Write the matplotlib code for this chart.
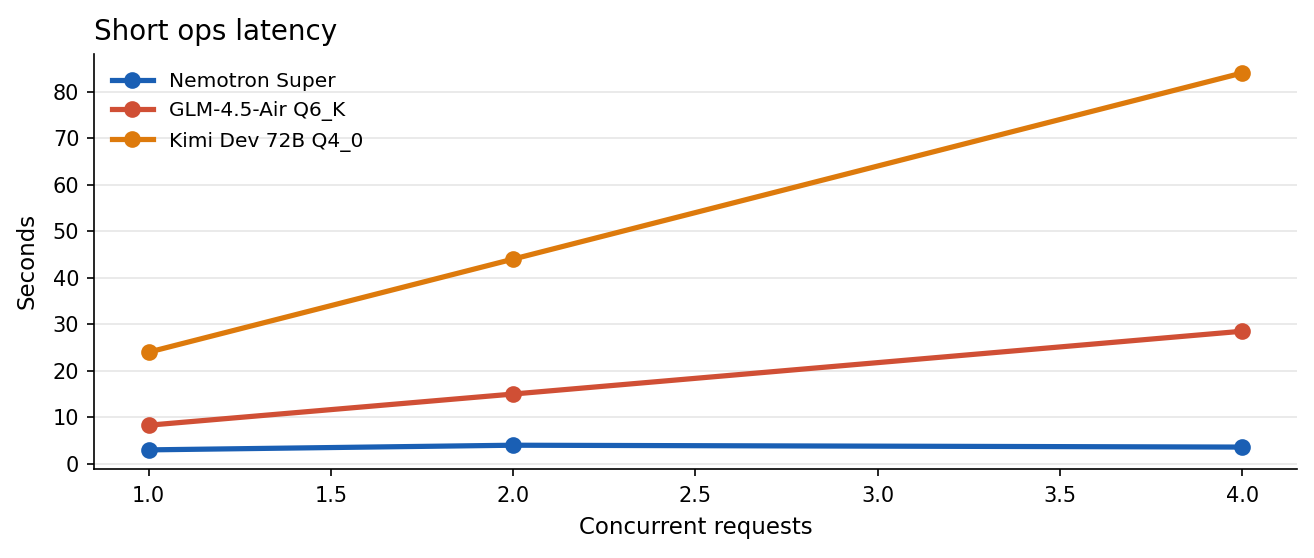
import matplotlib.pyplot as plt

concurrency = [1, 2, 4]
nemotron = [3.0, 4.0, 3.6]
glm = [8.3, 15.0, 28.5]
kimi = [24.0, 44.0, 84.0]

series = [
    ("Nemotron Super", nemotron, "#1a5fb4"),
    ("GLM-4.5-Air Q6_K", glm, "#d04f35"),
    ("Kimi Dev 72B Q4_0", kimi, "#dd7a0c"),
]

fig, ax = plt.subplots(figsize=(8.76, 3.72), dpi=150)
fig.subplots_adjust(left=0.0715, right=0.987, top=0.903, bottom=0.16)

for name, vals, color in series:
    ax.plot(concurrency, vals, marker="o", markersize=7, linewidth=2.5,
            color=color, label=name)

ax.set_title("Short ops latency", loc="left", fontsize=13.3, pad=7)
ax.set_xlabel("Concurrent requests", fontsize=11, labelpad=4.5)
ax.set_ylabel("Seconds", fontsize=11, labelpad=7)
ax.tick_params(axis="x", pad=5)
ax.grid(axis="y", color="#e6e6e6", linewidth=0.8)
ax.set_axisbelow(True)
ax.spines["top"].set_visible(False)
ax.spines["right"].set_visible(False)
ax.legend(frameon=False, loc="upper left", fontsize=9.7)

fig.savefig("out.png", dpi=150)
